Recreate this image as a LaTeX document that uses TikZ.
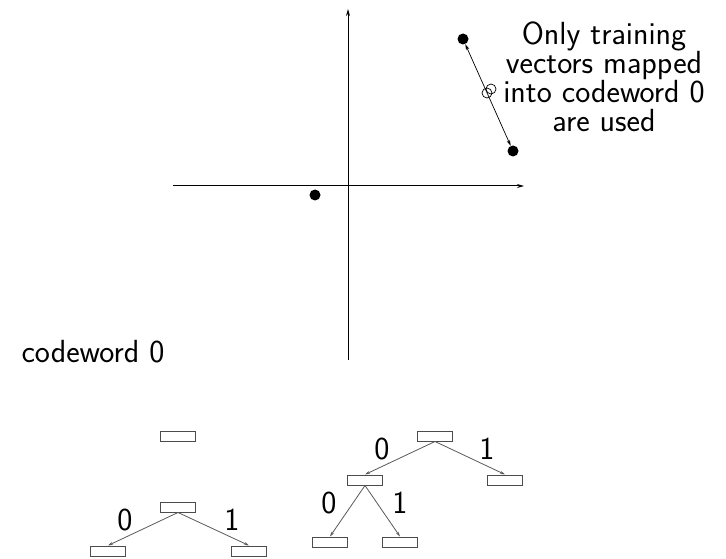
\documentclass[tikz,border=0pt]{standalone}
\usetikzlibrary{arrows.meta}
\begin{document}
\begin{tikzpicture}[x=1pt,y=-1pt,
  lbl/.style={font=\sffamily\fontsize{32}{29}\selectfont},
  cell/.style={draw=black!70,line width=1pt,fill=white,minimum width=35pt,minimum height=10pt,inner sep=0pt},
  dot/.style={circle,fill=black,inner sep=0pt,minimum size=11pt},
  ring/.style={circle,draw=black,line width=0.7pt,inner sep=0pt,minimum size=10pt},
  axis/.style={line width=1pt,-{Stealth[length=7pt,width=4pt]}},
  edge/.style={draw=black!65,line width=0.8pt,-{Stealth[length=5pt,width=3pt]}}]
\useasboundingbox (0,0) rectangle (726,559);

% coordinate axes
\coordinate (xl) at (173,186);
\coordinate (xr) at (524,186);
\coordinate (yb) at (348,360);
\coordinate (yt) at (348,9);
\draw[axis] (xl) -- (xr);
\draw[axis] (yb) -- (yt);

% training vectors
\node[dot] (p0) at (315,195) {};
\node[dot] (p1) at (463,39) {};
\node[dot] (p2) at (513,151) {};
\node[ring] (r1) at (487,93) {};
\node[ring] (r2) at (491,89) {};
\draw[line width=0.7pt,{Stealth[length=6pt,width=3.5pt]}-{Stealth[length=6pt,width=3.5pt]}] (p1) -- (p2);

\node[lbl,align=center] (note) at (604,77) {Only training\\vectors mapped\\into codeword 0\\are used};

\node[lbl,anchor=base west] (cw) at (18,362) {codeword 0};

% left tree
\node[cell] (a0) at (178,436) {};
\node[cell] (b0) at (178,507) {};
\node[cell] (b1) at (108,551) {};
\node[cell] (b2) at (249,551) {};
\draw[edge] (b0.south) -- (b1.north);
\draw[edge] (b0.south) -- (b2.north);
\node[lbl] (lb0) at (125,520) {0};
\node[lbl] (lb1) at (232,520) {1};

% right tree
\node[cell] (c0) at (435,436) {};
\node[cell] (c1) at (365,480) {};
\node[cell] (c2) at (505,480) {};
\node[cell] (c3) at (330,542) {};
\node[cell] (c4) at (400,542) {};
\draw[edge] (c0.south) -- (c1.north);
\draw[edge] (c0.south) -- (c2.north);
\draw[edge] (c1.south) -- (c3.north);
\draw[edge] (c1.south) -- (c4.north);
\node[lbl] (lc0) at (382,449) {0};
\node[lbl] (lc1) at (487,449) {1};
\node[lbl] (lc2) at (329,503) {0};
\node[lbl] (lc3) at (400,503) {1};
\end{tikzpicture}
\end{document}
